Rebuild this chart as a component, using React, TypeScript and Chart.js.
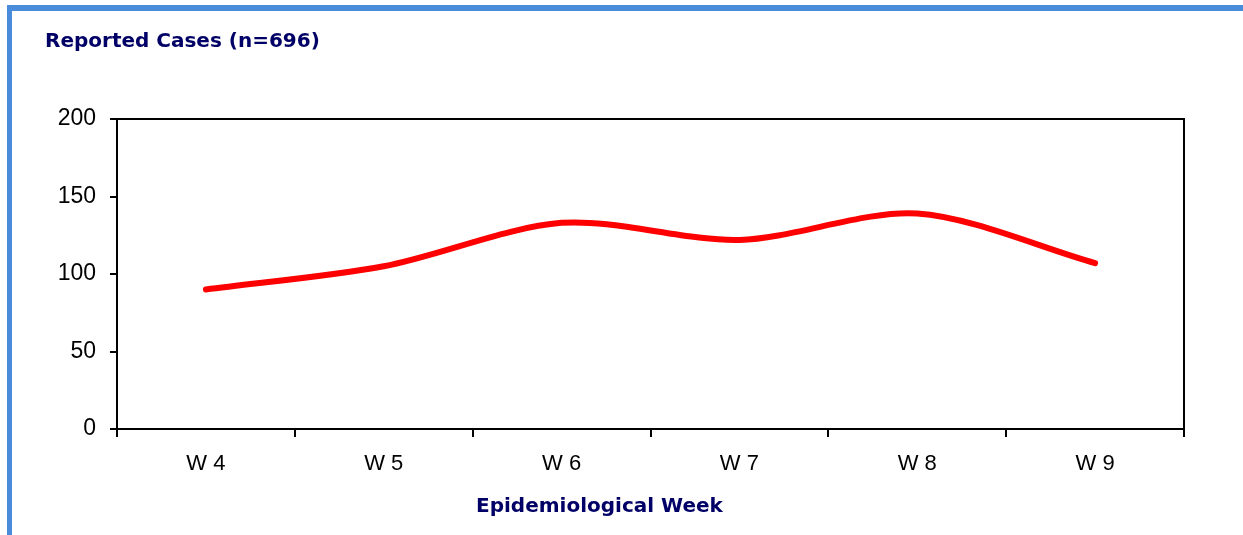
import React, { useEffect, useRef } from "react";
import { Chart, registerables } from "chart.js";

Chart.register(...registerables);

const weeks = ["W 4", "W 5", "W 6", "W 7", "W 8", "W 9"];
const cases = [90, 105, 133, 122, 139, 107];
const yTicks = [0, 50, 100, 150, 200];
const chartTitle = "Reported Cases (n=696)";
const xTitle = "Epidemiological Week";

const W = 1243;
const H = 535;

const framePlugin = {
  id: "frame",
  beforeDatasetsDraw(chart: any) {
    const { ctx, chartArea } = chart;
    ctx.save();
    ctx.strokeStyle = "#000";
    ctx.lineWidth = 2;
    ctx.strokeRect(chartArea.left, chartArea.top, chartArea.right - chartArea.left, chartArea.bottom - chartArea.top);
    ctx.restore();
  },
};

export default function App() {
  const ref = useRef<HTMLCanvasElement | null>(null);

  useEffect(() => {
    if (!ref.current) return;
    const chart = new Chart(ref.current, {
      type: "line",
      data: {
        labels: weeks,
        datasets: [
          {
            data: cases,
            borderColor: "#FF0000",
            borderWidth: 6,
            borderCapStyle: "round",
            borderJoinStyle: "round",
            tension: 0.3,
            pointRadius: 0,
            fill: false,
          },
        ],
      },
      options: {
        responsive: false,
        animation: false,
        layout: { padding: { left: 0, top: 119, right: 59, bottom: 0 } },
        plugins: {
          legend: { display: false },
          tooltip: { enabled: false },
          title: { display: false },
        },
        scales: {
          x: {
            type: "category",
            offset: true,
            grid: {
              offset: true,
              drawOnChartArea: false,
              drawTicks: true,
              tickLength: 8,
              color: "#000",
              lineWidth: 2,
            },
            border: { display: true, color: "#000", width: 2 },
            ticks: {
              color: "#000",
              padding: 14,
              font: { family: "'Liberation Sans', Arial, sans-serif", size: 22 },
              maxRotation: 0,
            },
            afterFit: (scale: any) => {
              scale.height = 106;
            },
          },
          y: {
            min: 0,
            max: 200,
            afterBuildTicks: (scale: any) => {
              scale.ticks = yTicks.map((v) => ({ value: v }));
            },
            grid: {
              drawOnChartArea: false,
              drawTicks: true,
              tickLength: 7,
              color: "#000",
              lineWidth: 2,
            },
            border: { display: true, color: "#000", width: 2 },
            ticks: {
              color: "#000",
              padding: 14,
              font: { family: "'Liberation Sans', Arial, sans-serif", size: 23 },
            },
            afterFit: (scale: any) => {
              scale.width = 117;
            },
          },
        },
      },
      plugins: [framePlugin],
    });
    return () => chart.destroy();
  }, []);

  return (
    <div style={{ position: "absolute", left: 0, top: 0, width: W, height: H, background: "#fff", overflow: "hidden" }}>
      <div
        style={{
          position: "absolute",
          left: 7,
          top: 5,
          width: W - 7,
          height: H - 5,
          borderTop: "6px solid #4A8CDB",
          borderLeft: "5px solid #4A8CDB",
          boxSizing: "border-box",
        }}
      />
      <canvas ref={ref} width={W} height={H} style={{ position: "absolute", left: 0, top: 0, width: W, height: H }} />
      <div
        style={{
          position: "absolute",
          left: 45,
          top: 28,
          fontFamily: "'DejaVu Sans', Verdana, sans-serif",
          fontWeight: "bold",
          fontSize: 20,
          color: "#000066",
          whiteSpace: "nowrap",
        }}
      >
        {chartTitle}
      </div>
      <div
        style={{
          position: "absolute",
          left: 476,
          top: 493,
          fontFamily: "'DejaVu Sans', Verdana, sans-serif",
          fontWeight: "bold",
          fontSize: 20,
          color: "#000066",
          whiteSpace: "nowrap",
        }}
      >
        {xTitle}
      </div>
    </div>
  );
}
